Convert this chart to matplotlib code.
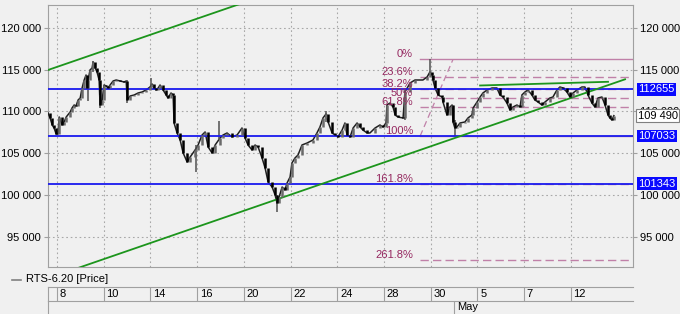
import matplotlib
matplotlib.use("Agg")
import matplotlib.pyplot as plt
import matplotlib.transforms as mtransforms
import numpy as np

plt.rcParams['font.family'] = ['Liberation Sans', 'DejaVu Sans']
plt.rcParams['font.size'] = 8

# bar positions in trading days (0 = "8") and closes
days = [-0.39, -0.30, -0.21, -0.13, -0.04, 0.04, 0.09, 0.21, 0.30, 0.39,
        0.56, 0.64, 0.73, 0.81, 0.90, 0.99, 1.07, 1.16, 1.24, 1.28,
        1.33, 1.41, 1.50, 1.54, 1.63, 1.71, 1.80, 1.84, 1.93, 2.01,
        2.10, 2.18, 2.27, 2.40, 2.53, 2.70, 2.87, 2.96, 3.00, 3.13,
        3.30, 3.47, 3.64, 3.81, 3.98, 4.07, 4.15, 4.24, 4.33, 4.41,
        4.54, 4.67, 4.75, 4.88, 4.97, 5.01, 5.14, 5.27, 5.40, 5.57,
        5.70, 5.91, 6.04, 6.21, 6.34, 6.47, 6.64, 6.77, 6.98, 7.11,
        7.28, 7.49, 7.71, 7.92, 8.05, 8.18, 8.35, 8.48, 8.61, 8.78,
        8.91, 9.04, 9.21, 9.34, 9.42, 9.51, 9.64, 9.76, 9.85, 9.98,
        10.06, 10.19, 10.32, 10.49, 10.71, 10.96, 11.13, 11.26, 11.39, 11.52,
        11.61, 11.78, 11.91, 12.03, 12.21, 12.33, 12.42, 12.55, 12.68, 12.85,
        12.98, 13.10, 13.28, 13.40, 13.62, 13.83, 13.96, 14.09, 14.13, 14.26,
        14.39, 14.48, 14.60, 14.82, 14.90, 15.12, 15.33, 15.55, 15.67, 15.85,
        15.97, 16.06, 16.10, 16.19, 16.32, 16.49, 16.53, 16.70, 16.83, 16.92,
        16.96, 17.04, 17.13, 17.26, 17.47, 17.60, 17.77, 17.82, 17.99, 18.12,
        18.24, 18.42, 18.63, 18.84, 18.97, 19.10, 19.27, 19.40, 19.53, 19.70,
        19.83, 19.91, 20.04, 20.17, 20.34, 20.47, 20.60, 20.77, 20.90, 21.11,
        21.24, 21.41, 21.54, 21.67, 21.84, 21.97, 22.10, 22.27, 22.48, 22.61,
        22.74, 22.91, 23.04, 23.17, 23.34, 23.47, 23.60, 23.68, 23.77, 23.85]

closes = [109809, 109209, 108370, 108010, 107291, 107291, 109329, 108370, 108730, 109329,
          109929, 110408, 110768, 110648, 111367, 111607, 112806, 113765, 114364, 112806,
          113765, 114964, 115204, 115923, 115204, 114724, 113765, 110768, 111367, 113165,
          113046, 112806, 113165, 113645, 113765, 113645, 113525, 113645, 111367, 111846,
          111966, 112206, 112326, 112566, 112926, 113285, 112806, 112566, 112806, 113165,
          112566, 111966, 111607, 112206, 111966, 108610, 107411, 106571, 105013, 103933,
          104533, 105372, 105972, 107171, 107531, 105732, 105013, 105972, 106811, 107171,
          107411, 106931, 107171, 108010, 106811, 105972, 105372, 105972, 105732, 104413,
          103214, 101536, 100936, 99976, 99017, 99736, 100936, 100576, 101416, 102135,
          103813, 104413, 104773, 105972, 106212, 106571, 107411, 108130, 109209, 109689,
          108730, 107411, 107171, 106931, 107771, 108610, 107171, 106931, 108010, 108610,
          108130, 107771, 107411, 107411, 108010, 108370, 108130, 108610, 110768, 111007,
          110528, 109569, 109329, 109209, 112326, 113405, 113765, 113765, 113765, 114124,
          114724, 114364, 113765, 112806, 111966, 111727, 111127, 109569, 110528, 110768,
          108730, 108010, 108130, 108610, 108730, 109209, 109569, 110408, 111127, 111727,
          112206, 112566, 112806, 112806, 111966, 111727, 111007, 110168, 110528, 110768,
          110528, 111966, 112326, 112566, 111966, 111367, 111127, 110768, 111127, 111607,
          111727, 112566, 112926, 112806, 112326, 111727, 112206, 112566, 112926, 112926,
          111966, 111007, 110528, 111607, 111727, 110768, 109569, 109209, 108969, 109490]

wick_day = [1.33, 1.54, 1.84, 3.00, 4.03, 5.95, 6.94, 9.42, 11.52, 14.90, 15.97, 17.04]
wick_high = [114004, 116043, 111966, 113765, 114004, 105972, 108850, 99976, 110048, 112566, 116240, 108969]
wick_low = [111247, 114724, 110408, 111007, 112566, 102735, 106571, 97938, 108730, 108969, 114364, 107033]

levels = [112655, 107033, 101343]
last_price = 109490

# channel lines (day, price)
chan_up = ([-0.39, 8.2], [114964, 123240])
chan_lo = ([0.9, 24.33], [91230, 113849])
top_line = ([18.12, 23.60], [113106, 113550])

fib_hi, fib_lo = 116240, 107033
fib_pct = [0, 23.6, 38.2, 50, 61.8, 100, 161.8, 261.8]
fib_start, fib_end_diag = 15.55, 16.96

tick_days = [0, 2, 4, 6, 8, 10, 12, 14, 16, 18, 20, 22]
tick_text = ["8", "10", "14", "16", "20", "22", "24", "28", "30", "5", "7", "12"]
may_day = 17

bg = '#f0f0f0'
edge = '#a0a0a0'
fig = plt.figure(figsize=(6.8, 3.14), dpi=100, facecolor=bg)
ax = fig.add_axes([48/680, 47/314, 585/680, 262/314], facecolor=bg)
xmin, xmax = -0.39, 24.67
ax.set_xlim(xmin, xmax)
ax.set_ylim(91344, 122757)

yt = [95000, 100000, 105000, 110000, 115000, 120000]
ax.set_yticks(yt)
ax.set_yticklabels([f"{v:,}".replace(",", " ") for v in yt])
ax.tick_params(axis='y', left=True, right=True, labelleft=True, labelright=True,
               length=3, pad=2, color=edge, labelsize=8)
ax.set_xticks(tick_days)
ax.tick_params(axis='x', bottom=False, labelbottom=False)
ax.grid(True, color='#a8a8a8', linestyle=(0, (1.5, 2.5)), linewidth=0.8)
for s in ax.spines.values():
    s.set_color(edge)
    s.set_linewidth(0.8)

# price bars
x = np.array(days)
c = np.array(closes)
o = np.r_[c[0], c[:-1]]
ax.plot(x, c, color='#202020', lw=1.1, zorder=3)
ax.vlines(wick_day, wick_low, wick_high, color='#505050', lw=1.1, zorder=3)
up = c >= o
ax.vlines(x[up], o[up], c[up], color='#6a6a6a', lw=1.8, zorder=4)
ax.vlines(x[~up], o[~up], c[~up], color='#000000', lw=1.8, zorder=4)

# fibonacci
fib_line = '#c080a8'
fib_txt = '#952860'
ax.plot([fib_start, fib_end_diag], [fib_lo, fib_hi], color=fib_line, lw=0.9,
        ls=(0, (5, 3)), zorder=2)
for p in fib_pct:
    val = fib_hi - p / 100 * (fib_hi - fib_lo)
    ls = '-' if p in (0, 100) else (0, (6, 3))
    ax.plot([fib_start, xmax], [val, val], color=fib_line, lw=1.0, ls=ls, zorder=2)
    lab = f"{p:g}%"
    ax.text(15.25, val, lab, ha='right', va='bottom', color=fib_txt, fontsize=8, zorder=5)

# horizontal levels
for lv in levels:
    ax.axhline(lv, color='#1a1aee', lw=1.3, zorder=3)

# channel
gc = '#1c951c'
ax.plot(*chan_up, color=gc, lw=1.3, zorder=3)
ax.plot(*chan_lo, color=gc, lw=1.3, zorder=3)
ax.plot(*top_line, color=gc, lw=1.3, zorder=3)

# right side labels
tr = mtransforms.blended_transform_factory(ax.transAxes, ax.transData)
for lv in levels:
    ax.text(1.009, lv, str(lv), transform=tr, ha='left', va='center', color='white',
            fontsize=8, clip_on=False, zorder=10,
            bbox=dict(boxstyle='square,pad=0.12', fc='#0a0aff', ec='none'))
ax.text(1.008, last_price, f"{last_price:,}".replace(",", " "), transform=tr,
        ha='left', va='center', color='black', fontsize=8, clip_on=False, zorder=10,
        bbox=dict(boxstyle='square,pad=0.15', fc='white', ec='#808080', lw=0.8))

# legend
fig.add_artist(plt.Line2D([12/680, 21/680], [1 - 279.5/314] * 2, color='#808080', lw=1.2))
fig.text(26/680, 1 - 279.5/314, "RTS-6.20 [Price]", ha='left', va='center', fontsize=8)

# date strip
axd = fig.add_axes([48/680, 13/314, 585/680, 14/314], facecolor=bg, sharex=ax)
axd.set_ylim(0, 1)
axd.set_yticks([])
axd.tick_params(axis='x', bottom=False, labelbottom=False)
for k in ['right', 'bottom']:
    axd.spines[k].set_visible(False)
for k in ['top', 'left']:
    axd.spines[k].set_color(edge)
    axd.spines[k].set_linewidth(0.8)
axd.vlines(tick_days, 0, 1, color=edge, lw=0.8)
for d, t in zip(tick_days, tick_text):
    axd.text(d + 0.12, 0.5, t, ha='left', va='center', fontsize=8)

axm = fig.add_axes([48/680, 0, 585/680, 13/314], facecolor=bg, sharex=ax)
axm.set_ylim(0, 1)
axm.set_yticks([])
axm.tick_params(axis='x', bottom=False, labelbottom=False)
for k in ['right', 'bottom']:
    axm.spines[k].set_visible(False)
for k in ['top', 'left']:
    axm.spines[k].set_color(edge)
    axm.spines[k].set_linewidth(0.8)
axm.vlines([may_day], 0, 1, color=edge, lw=0.8)
axm.text(may_day + 0.12, 0.5, "May", ha='left', va='center', fontsize=8)

fig.savefig("out.png", dpi=100, facecolor=bg)
